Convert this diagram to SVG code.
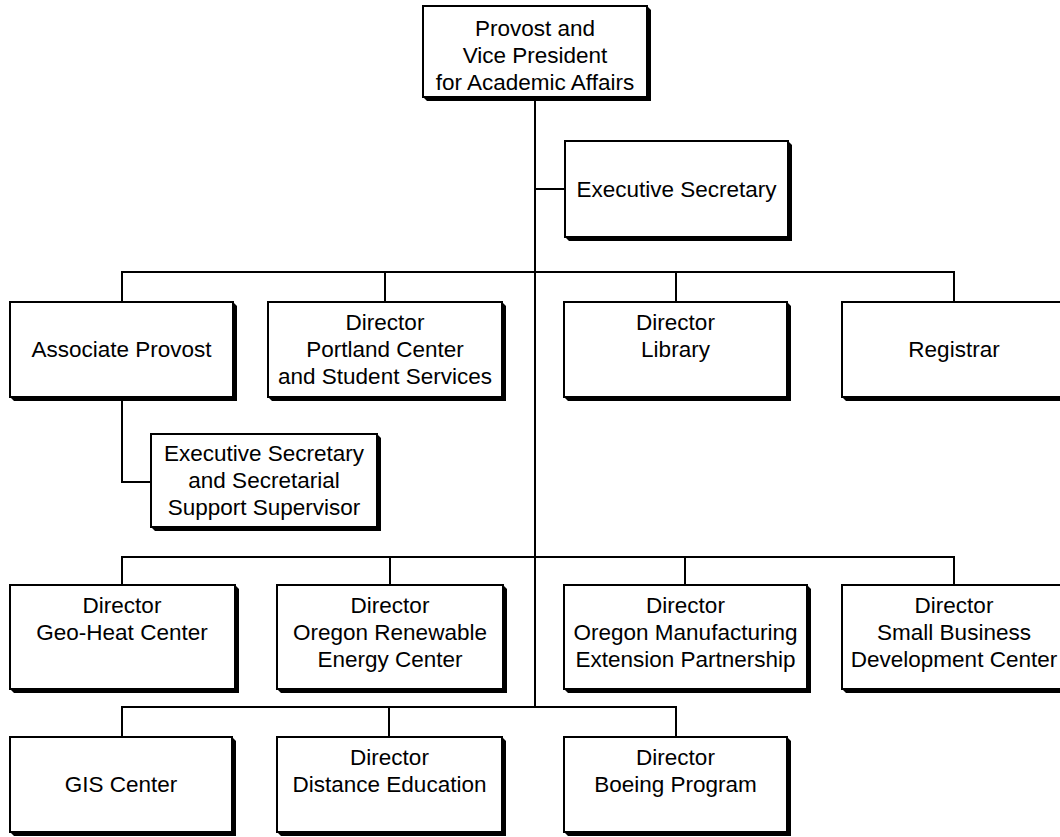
<svg xmlns="http://www.w3.org/2000/svg" width="1060" height="837" viewBox="0 0 1060 837">
<style>
.box{fill:#fff;stroke:#000;stroke-width:2}
.sh{fill:#000}
.ln{fill:none;stroke:#000;stroke-width:2}
text{font-family:"Liberation Sans",Arial,sans-serif;font-size:22.5px;fill:#000;text-anchor:middle}
</style>
<rect width="1060" height="837" fill="#fff"/>
<g id="connectors" class="ln">
<path d="M535 97V707"/>
<path d="M535 189H565"/>
<path d="M122 302V272H954V302M385 272V302M676 272V302"/>
<path d="M122 397V482H151"/>
<path d="M122 585V557H954V585M390 557V585M685 557V585"/>
<path d="M122 737V707H676V737M389 707V737"/>
</g>
<g id="provost">
<polygon class="sh" points="647,6 651,10 651,101 427,101 423,97"/>
<rect class="box" x="423" y="6" width="224" height="91"/>
<text x="535" y="36">Provost and</text>
<text x="535" y="63">Vice President</text>
<text x="535" y="90">for Academic Affairs</text>
</g>
<g id="exec-secretary">
<polygon class="sh" points="788,141 792,145 792,241 569,241 565,237"/>
<rect class="box" x="565" y="141" width="223" height="96"/>
<text x="676.5" y="197">Executive Secretary</text>
</g>
<g id="associate-provost">
<polygon class="sh" points="233,302 237,306 237,401 14,401 10,397"/>
<rect class="box" x="10" y="302" width="223" height="95"/>
<text x="121.5" y="357">Associate Provost</text>
</g>
<g id="portland">
<polygon class="sh" points="502,302 506,306 506,401 272,401 268,397"/>
<rect class="box" x="268" y="302" width="234" height="95"/>
<text x="385" y="330">Director</text>
<text x="385" y="357">Portland Center</text>
<text x="385" y="384">and Student Services</text>
</g>
<g id="library">
<polygon class="sh" points="787,302 791,306 791,401 568,401 564,397"/>
<rect class="box" x="564" y="302" width="223" height="95"/>
<text x="675.5" y="330">Director</text>
<text x="675.5" y="357">Library</text>
</g>
<g id="registrar">
<polygon class="sh" points="1066,302 1070,306 1070,401 846,401 842,397"/>
<rect class="box" x="842" y="302" width="224" height="95"/>
<text x="954" y="357">Registrar</text>
</g>
<g id="secretarial-support">
<polygon class="sh" points="377,434 381,438 381,531 155,531 151,527"/>
<rect class="box" x="151" y="434" width="226" height="93"/>
<text x="264" y="461">Executive Secretary</text>
<text x="264" y="488">and Secretarial</text>
<text x="264" y="515">Support Supervisor</text>
</g>
<g id="geo-heat">
<polygon class="sh" points="235,585 239,589 239,693 14,693 10,689"/>
<rect class="box" x="10" y="585" width="225" height="104"/>
<text x="122" y="613">Director</text>
<text x="122" y="640">Geo-Heat Center</text>
</g>
<g id="renewable">
<polygon class="sh" points="503,585 507,589 507,693 281,693 277,689"/>
<rect class="box" x="277" y="585" width="226" height="104"/>
<text x="390" y="613">Director</text>
<text x="390" y="640">Oregon Renewable</text>
<text x="390" y="667">Energy Center</text>
</g>
<g id="manufacturing">
<polygon class="sh" points="807,585 811,589 811,693 568,693 564,689"/>
<rect class="box" x="564" y="585" width="243" height="104"/>
<text x="685.5" y="613">Director</text>
<text x="685.5" y="640">Oregon Manufacturing</text>
<text x="685.5" y="667">Extension Partnership</text>
</g>
<g id="small-business">
<polygon class="sh" points="1066,585 1070,589 1070,693 846,693 842,689"/>
<rect class="box" x="842" y="585" width="224" height="104"/>
<text x="954" y="613">Director</text>
<text x="954" y="640">Small Business</text>
<text x="954" y="667">Development Center</text>
</g>
<g id="gis">
<polygon class="sh" points="232,737 236,741 236,836 14,836 10,832"/>
<rect class="box" x="10" y="737" width="222" height="95"/>
<text x="121" y="792">GIS Center</text>
</g>
<g id="distance-education">
<polygon class="sh" points="502,737 506,741 506,836 281,836 277,832"/>
<rect class="box" x="277" y="737" width="225" height="95"/>
<text x="389.5" y="765">Director</text>
<text x="389.5" y="792">Distance Education</text>
</g>
<g id="boeing">
<polygon class="sh" points="787,737 791,741 791,836 568,836 564,832"/>
<rect class="box" x="564" y="737" width="223" height="95"/>
<text x="675.5" y="765">Director</text>
<text x="675.5" y="792">Boeing Program</text>
</g>
</svg>
